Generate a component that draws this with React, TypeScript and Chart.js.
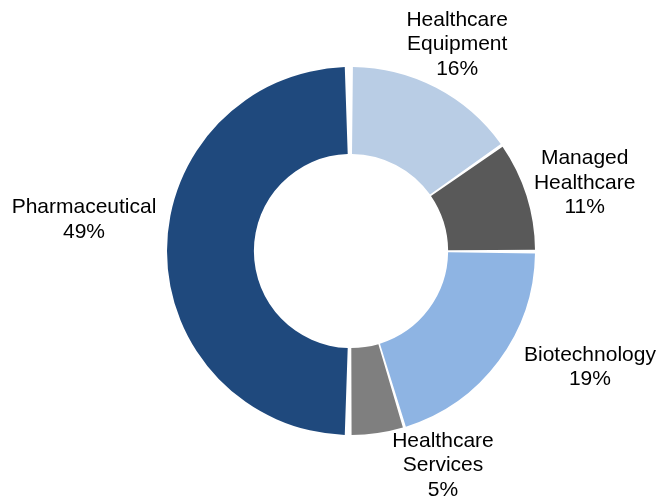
import React, { useEffect, useRef } from "react";
import { Chart, registerables } from "chart.js";

Chart.register(...registerables);

const categories = [
  ["Healthcare", "Equipment"],
  ["Managed", "Healthcare"],
  ["Biotechnology"],
  ["Healthcare", "Services"],
  ["Pharmaceutical"],
];
// slice sizes as drawn in the picture
const shares = [15.3, 9.7, 20.4, 4.6, 50.0];
// percentages as printed on the labels
const percentLabels = ["16%", "11%", "19%", "5%", "49%"];
const colors = ["#B9CDE5", "#595959", "#8EB4E3", "#7F7F7F", "#1F497D"];

// label placement nudges (pixels) relative to a point beyond each slice's outer edge
const labelNudges = [
  [2.6, -7.8],
  [20, -1],
  [59.4, -17.9],
  [59.7, -7.1],
  [-43, -31.5],
];

const labelPlugin = {
  id: "outsideLabels",
  afterDatasetsDraw(chart: any) {
    const ctx = chart.ctx;
    const meta = chart.getDatasetMeta(0);
    ctx.save();
    ctx.font = '21px "Liberation Sans", Arial, sans-serif';
    ctx.fillStyle = "#000000";
    ctx.textAlign = "center";
    ctx.textBaseline = "middle";
    const lineH = 24.5;
    meta.data.forEach((arc: any, i: number) => {
      const { x, y, startAngle, endAngle } = arc.getProps(
        ["x", "y", "startAngle", "endAngle"],
        true
      );
      const mid = (startAngle + endAngle) / 2;
      const r = 224;
      const ax = x + Math.cos(mid) * r + labelNudges[i][0];
      const ay = y + Math.sin(mid) * r + labelNudges[i][1];
      const lines = [...categories[i], percentLabels[i]];
      const top = ay - ((lines.length - 1) * lineH) / 2;
      lines.forEach((t, j) => ctx.fillText(t, ax, top + j * lineH));
    });
    ctx.restore();
  },
};

export default function App() {
  const ref = useRef<HTMLCanvasElement>(null);
  useEffect(() => {
    document.body.style.margin = "0";
    const chart = new Chart(ref.current!, {
      type: "doughnut",
      data: {
        labels: categories.map((c) => c.join(" ")),
        datasets: [
          {
            data: shares,
            backgroundColor: colors,
            borderWidth: 0,
            spacing: 6,
          },
        ],
      },
      options: {
        responsive: false,
        animation: false,
        cutout: "52%",
        rotation: 0,
        layout: { padding: { left: 167, top: 67, right: 124, bottom: 65 } },
        plugins: {
          legend: { display: false },
          tooltip: { enabled: false },
        },
      },
      plugins: [labelPlugin],
    });
    return () => chart.destroy();
  }, []);
  return <canvas ref={ref} width={659} height={500} />;
}
